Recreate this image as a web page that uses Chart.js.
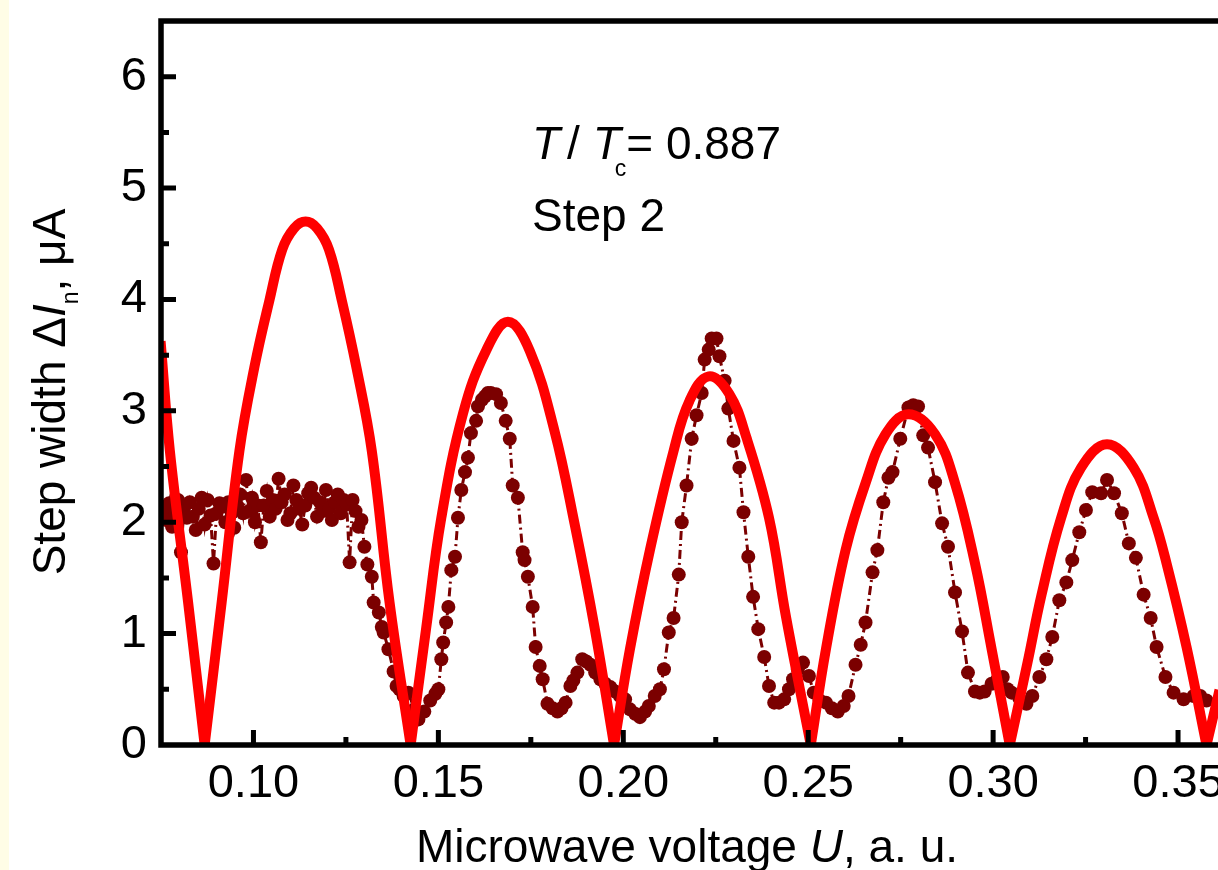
<!DOCTYPE html>
<html>
<head>
<meta charset="utf-8">
<script src="https://cdn.jsdelivr.net/npm/chart.js@4.4.1/dist/chart.umd.min.js"></script>
<style>
  html, body { margin: 0; padding: 0; background: #ffffff; overflow: hidden; }
  #page { position: relative; width: 1218px; height: 870px; overflow: hidden; background: #ffffff; }
  #strip { position: absolute; left: 0; top: 0; width: 9px; height: 870px; background: #fffde6; }
  #wrap { position: absolute; left: 0; top: 0; width: 1259px; height: 870px; }
  .lbl { position: absolute; font-family: 'Liberation Sans', Arial, sans-serif; font-size: 46px; line-height: 46px; color: #000; white-space: nowrap; }
  .lbl sub { font-size: 23px; line-height: 0; }
  #yTitle { left: -201px; top: 369px; width: 500px; text-align: center; transform: rotate(-90deg); transform-origin: 250px 23px; }
  #xTitle { left: 387px; top: 823px; width: 600px; text-align: center; }
</style>
</head>
<body>
<div id="page">
  <div id="strip"></div>
  <div id="wrap"><canvas id="stepChart"></canvas></div>
  <div class="lbl" id="yTitle">Step width &Delta;<i>I</i><sub style="vertical-align:-13px">n</sub>, &mu;A</div>
  <div class="lbl" id="xTitle">Microwave voltage <i>U</i>, a. u.</div>
  <div class="lbl" style="left:532px; top:120px;"><i style="margin-right:7px">T</i>/ <i>T</i><sub style="vertical-align:-17px; margin-left:-6px">c</sub>= 0.887</div>
  <div class="lbl" style="left:532px; top:192px;">Step 2</div>
</div>
<script>
const black = '#000000';
const fitRed = '#ff0000';
const dotRed = '#7b0000';
const fontFamily = "'Liberation Sans', Arial, sans-serif";

// measured step width (dots)
const measU = [
  0.0756, 0.0764, 0.0772, 0.0780, 0.0788, 0.0796, 0.0804, 0.0812, 0.0820, 0.0828,
  0.0836, 0.0844, 0.0852, 0.0860, 0.0868, 0.0876, 0.0884, 0.0892, 0.0900, 0.0908,
  0.0916, 0.0924, 0.0932, 0.0940, 0.0948, 0.0956, 0.0964, 0.0972, 0.0980, 0.0988,
  0.0996, 0.1004, 0.1012, 0.1020, 0.1028, 0.1036, 0.1044, 0.1052, 0.1060, 0.1068,
  0.1076, 0.1084, 0.1092, 0.1100, 0.1108, 0.1116, 0.1124, 0.1132, 0.1140, 0.1148,
  0.1156, 0.1164, 0.1172, 0.1180, 0.1188, 0.1196, 0.1204, 0.1212, 0.1220, 0.1228,
  0.1236, 0.1244, 0.1252, 0.1260, 0.1268, 0.1276, 0.1284, 0.1292, 0.1300, 0.1308,
  0.1320, 0.1325, 0.1339, 0.1347, 0.1352, 0.1365, 0.1379, 0.1387, 0.1395, 0.1406,
  0.1419, 0.1435, 0.1446, 0.1462, 0.1478, 0.1492, 0.1500, 0.1508, 0.1513, 0.1521,
  0.1527, 0.1535, 0.1545, 0.1553, 0.1562, 0.1572, 0.1580, 0.1588, 0.1602, 0.1607,
  0.1618, 0.1626, 0.1634, 0.1642, 0.1656, 0.1669, 0.1682, 0.1693, 0.1701, 0.1715,
  0.1728, 0.1733, 0.1742, 0.1755, 0.1763, 0.1774, 0.1782, 0.1795, 0.1809, 0.1822,
  0.1833, 0.1844, 0.1857, 0.1865, 0.1876, 0.1889, 0.1900, 0.1911, 0.1924, 0.1938,
  0.1951, 0.1965, 0.1978, 0.1991, 0.2005, 0.2018, 0.2032, 0.2045, 0.2059, 0.2069,
  0.2085, 0.2099, 0.2110, 0.2123, 0.2136, 0.2150, 0.2158, 0.2171, 0.2185, 0.2198,
  0.2212, 0.2220, 0.2231, 0.2239, 0.2252, 0.2260, 0.2274, 0.2284, 0.2298, 0.2314,
  0.2325, 0.2338, 0.2351, 0.2365, 0.2381, 0.2394, 0.2408, 0.2421, 0.2435, 0.2448,
  0.2459, 0.2472, 0.2486, 0.2502, 0.2515, 0.2531, 0.2548, 0.2564, 0.2580, 0.2596,
  0.2609, 0.2628, 0.2642, 0.2655, 0.2674, 0.2687, 0.2703, 0.2717, 0.2728, 0.2749,
  0.2771, 0.2784, 0.2797, 0.2811, 0.2824, 0.2843, 0.2862, 0.2878, 0.2897, 0.2916,
  0.2932, 0.2951, 0.2964, 0.2977, 0.2996, 0.3012, 0.3026, 0.3039, 0.3050, 0.3071,
  0.3090, 0.3106, 0.3125, 0.3144, 0.3160, 0.3179, 0.3198, 0.3214, 0.3233, 0.3251,
  0.3268, 0.3292, 0.3308, 0.3327, 0.3348, 0.3367, 0.3386, 0.3407, 0.3426, 0.3442,
  0.3466, 0.3488, 0.3515, 0.3542, 0.3560, 0.3577
];
const measWidth = [
  2.10, 2.02, 2.17, 1.96, 2.08, 2.20, 1.73, 2.12, 2.04, 2.18,
  2.05, 1.93, 2.12, 2.22, 1.98, 2.20, 2.06, 1.63, 2.08, 2.17,
  2.14, 2.00, 2.18, 2.10, 1.95, 2.15, 2.25, 2.08, 2.38, 2.10,
  2.22, 2.00, 2.15, 1.82, 2.15, 2.28, 2.05, 2.20, 2.12, 2.39,
  2.18, 2.25, 2.02, 2.08, 2.33, 2.20, 2.12, 1.98, 2.15, 2.26,
  2.31, 2.22, 2.05, 2.18, 2.10, 2.29, 2.12, 2.02, 2.18, 2.25,
  2.08, 2.20, 2.16, 1.64, 2.20, 2.10, 1.96, 2.02, 1.78, 1.62,
  1.51, 1.28, 1.19, 1.06, 1.01, 0.86, 0.66, 0.53, 0.50, 0.44,
  0.47, 0.32, 0.23, 0.30, 0.40, 0.46, 0.50, 0.77, 0.92, 1.10,
  1.24, 1.57, 1.69, 2.04, 2.29, 2.45, 2.58, 2.80, 2.91, 3.04,
  3.10, 3.13, 3.16, 3.16, 3.15, 3.07, 2.91, 2.75, 2.33, 2.22,
  1.73, 1.66, 1.51, 1.24, 0.88, 0.71, 0.59, 0.37, 0.33, 0.30,
  0.33, 0.38, 0.53, 0.58, 0.65, 0.77, 0.75, 0.72, 0.65, 0.59,
  0.55, 0.52, 0.48, 0.44, 0.41, 0.32, 0.28, 0.25, 0.30, 0.35,
  0.44, 0.50, 0.68, 1.01, 1.14, 1.53, 2.00, 2.33, 2.75, 2.96,
  3.16, 3.46, 3.55, 3.65, 3.65, 3.49, 3.27, 3.02, 2.73, 2.49,
  2.09, 1.69, 1.33, 1.04, 0.79, 0.53, 0.38, 0.38, 0.41, 0.50,
  0.59, 0.68, 0.74, 0.62, 0.47, 0.40, 0.38, 0.33, 0.30, 0.35,
  0.44, 0.72, 0.90, 1.10, 1.55, 1.75, 2.18, 2.40, 2.45, 2.75,
  3.03, 3.05, 3.04, 2.78, 2.67, 2.36, 1.99, 1.78, 1.37, 1.02,
  0.65, 0.48, 0.47, 0.48, 0.55, 0.59, 0.61, 0.50, 0.47, 0.42,
  0.37, 0.44, 0.61, 0.77, 0.97, 1.30, 1.46, 1.66, 1.91, 2.11,
  2.27, 2.26, 2.38, 2.26, 2.08, 1.81, 1.68, 1.35, 1.14, 0.88,
  0.61, 0.47, 0.41, 0.44, 0.44, 0.40
];

// theory curve (red), zeros split it into lobes
const fitU = [
  0.0750, 0.0774, 0.0823, 0.0868,
  0.0914, 0.0962, 0.1003, 0.1043, 0.1078, 0.1110, 0.1141, 0.1172, 0.1204, 0.1239, 0.1279, 0.1320, 0.1368, 0.1425,
  0.1467, 0.1508, 0.1567, 0.1629, 0.1688, 0.1747, 0.1814, 0.1868, 0.1922, 0.1975,
  0.2018, 0.2072, 0.2136, 0.2179, 0.2231, 0.2287, 0.2333, 0.2394, 0.2440, 0.2507,
  0.2548, 0.2601, 0.2655, 0.2709, 0.2771, 0.2843, 0.2897, 0.2951, 0.2996, 0.3045,
  0.3093, 0.3131, 0.3184, 0.3238, 0.3308, 0.3380, 0.3434, 0.3469, 0.3523, 0.3577,
  0.3609
];
const fitWidth = [
  3.58, 2.64, 1.29, 0,
  1.28, 2.64, 3.40, 3.99, 4.45, 4.64, 4.70, 4.64, 4.45, 3.99, 3.38, 2.64, 1.28, 0,
  1.05, 2.04, 2.98, 3.54, 3.80, 3.54, 2.82, 1.99, 1.06, 0,
  0.86, 1.75, 2.64, 3.09, 3.31, 3.15, 2.76, 2.04, 1.15, 0,
  0.86, 1.75, 2.35, 2.79, 2.97, 2.79, 2.35, 1.63, 0.86, 0,
  0.74, 1.35, 2.04, 2.49, 2.70, 2.49, 2.04, 1.63, 0.88, 0,
  0.45
];

const xMajorTicks = [0.10, 0.15, 0.20, 0.25, 0.30, 0.35];
const xMinorTicks = [0.125, 0.175, 0.225, 0.275, 0.325];
const yMajorTicks = [0, 1, 2, 3, 4, 5, 6];
const yMinorTicks = [0.5, 1.5, 2.5, 3.5, 4.5, 5.5];

const fitLobes = [];
let lobe = [];
fitU.forEach((u, i) => {
    lobe.push({ x: u, y: fitWidth[i] });
    if (fitWidth[i] === 0 && lobe.length > 1) {
        fitLobes.push(lobe);
        lobe = [{ x: u, y: 0 }];
    }
});
if (lobe.length > 1) fitLobes.push(lobe);

const frameAndTicks = {
    id: 'frameAndTicks',
    afterDatasetsDraw(chart) {
        const { ctx, chartArea: area, scales: { x, y } } = chart;
        ctx.save();
        ctx.strokeStyle = black;
        ctx.lineCap = 'butt';
        ctx.lineWidth = 5;
        ctx.beginPath();
        xMajorTicks.forEach(v => {
            const px = x.getPixelForValue(v);
            ctx.moveTo(px, area.bottom);
            ctx.lineTo(px, area.bottom - 15);
        });
        xMinorTicks.forEach(v => {
            const px = x.getPixelForValue(v);
            ctx.moveTo(px, area.bottom);
            ctx.lineTo(px, area.bottom - 8);
        });
        yMajorTicks.slice(1).forEach(v => {
            const py = y.getPixelForValue(v);
            ctx.moveTo(area.left, py);
            ctx.lineTo(area.left + 15, py);
        });
        yMinorTicks.forEach(v => {
            const py = y.getPixelForValue(v);
            ctx.moveTo(area.left, py);
            ctx.lineTo(area.left + 8, py);
        });
        ctx.stroke();

        ctx.lineWidth = 5.5;
        ctx.lineJoin = 'miter';
        ctx.beginPath();
        ctx.moveTo(area.right + 10, area.top);
        ctx.lineTo(area.left, area.top);
        ctx.lineTo(area.left, area.bottom);
        ctx.lineTo(area.right + 10, area.bottom);
        ctx.stroke();
        ctx.restore();
    },
};

const tickFont = { family: fontFamily, size: 47 };

new Chart(document.getElementById('stepChart'), {
    type: 'line',
    data: {
        datasets: [
            ...fitLobes.map(points => ({
                data: points,
                borderColor: fitRed,
                borderWidth: 10,
                pointRadius: 0,
                tension: 0.4,
                borderCapStyle: 'square',
                borderJoinStyle: 'round',
                clip: { left: 0, top: 10, right: 10, bottom: 0 },
                order: 0,
            })),
            {
                data: measU.map((u, i) => ({ x: u, y: measWidth[i] })),
                showLine: true,
                borderColor: dotRed,
                borderWidth: 3,
                borderDash: [9, 4, 2, 4],
                tension: 0,
                pointRadius: 7,
                pointBackgroundColor: dotRed,
                pointBorderWidth: 0,
                order: 1,
            },
        ],
    },
    options: {
        responsive: true,
        maintainAspectRatio: false,
        animation: false,
        devicePixelRatio: 1,
        layout: { padding: { top: 21, left: 0, right: 0, bottom: 0 } },
        plugins: {
            legend: { display: false },
            tooltip: { enabled: false },
        },
        scales: {
            x: {
                type: 'linear',
                min: 0.075,
                max: 0.37,
                grid: { display: false, drawTicks: false },
                border: { display: false },
                afterBuildTicks: scale => { scale.ticks = xMajorTicks.map(v => ({ value: v })); },
                afterFit: scale => {
                    scale.height = 125;
                    scale.paddingLeft = 0;
                    scale.paddingRight = 0;
                },
                ticks: {
                    padding: 11,
                    color: black,
                    autoSkip: false,
                    maxRotation: 0,
                    font: tickFont,
                    callback: value => Number(value).toFixed(2),
                },
            },
            y: {
                type: 'linear',
                min: 0,
                max: 6.5,
                grid: { display: false, drawTicks: false },
                border: { display: false },
                afterBuildTicks: scale => { scale.ticks = yMajorTicks.map(v => ({ value: v })); },
                afterFit: scale => {
                    scale.width = 161;
                    scale.paddingTop = 0;
                    scale.paddingBottom = 0;
                },
                ticks: {
                    padding: 14,
                    color: black,
                    font: tickFont,
                    callback: value => String(value),
                },
            },
        },
    },
    plugins: [frameAndTicks],
});
</script>
</body>
</html>
